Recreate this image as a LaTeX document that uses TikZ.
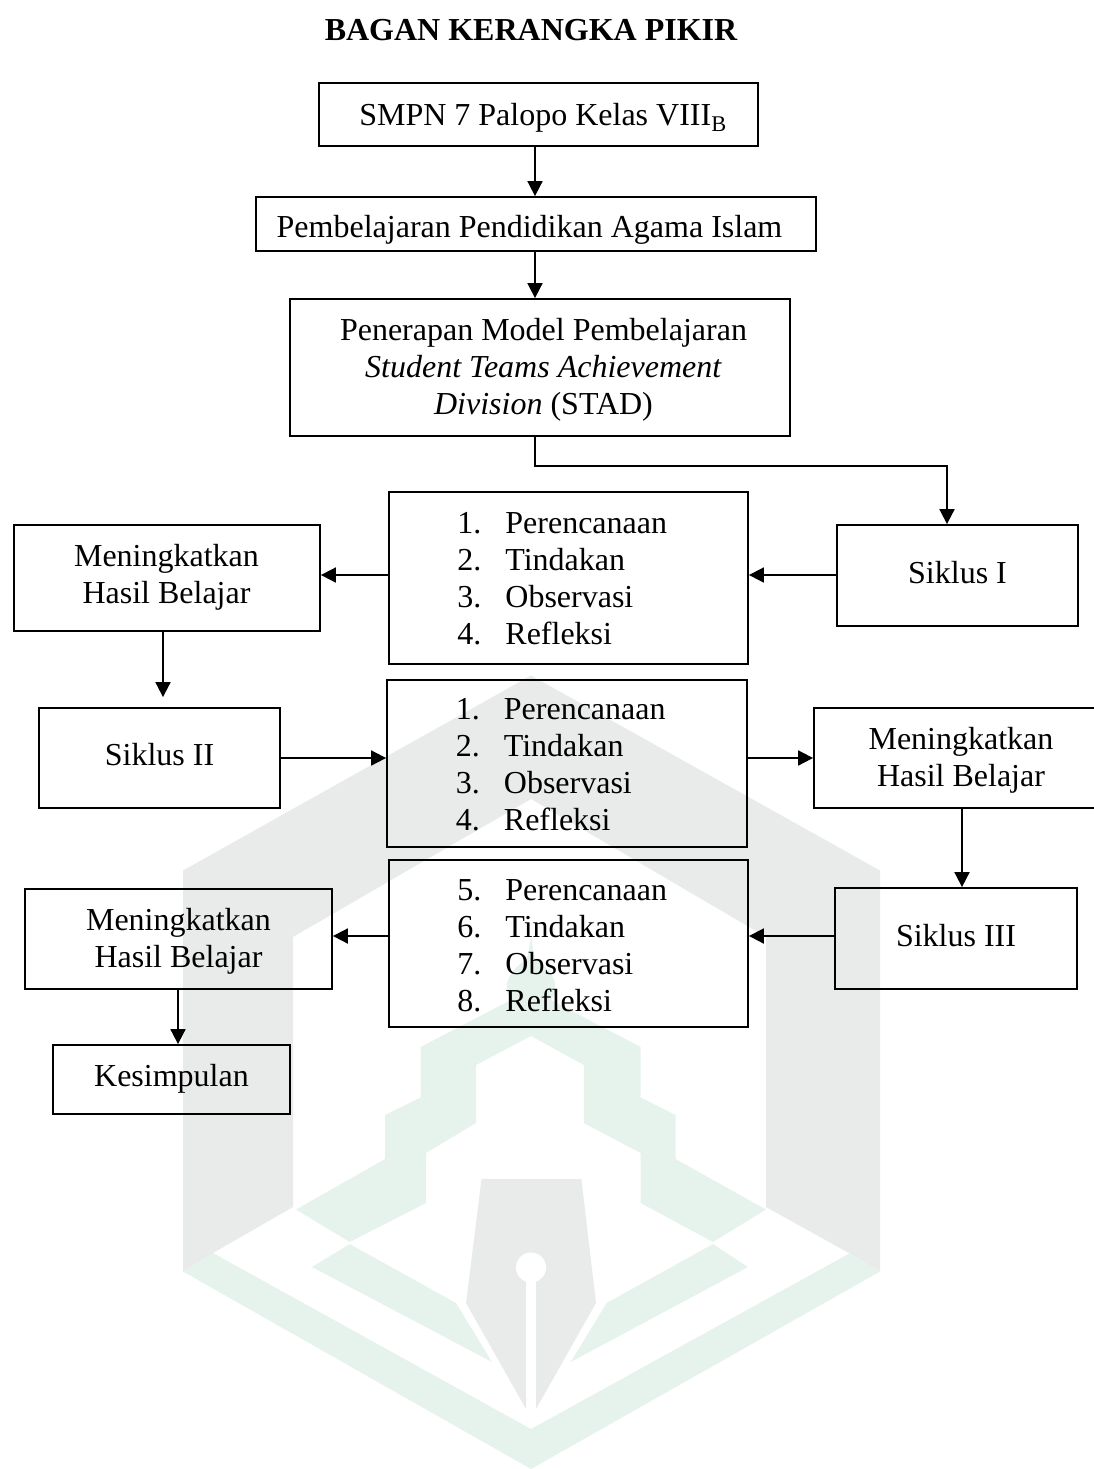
\documentclass[tikz,border=0pt]{standalone}
\usepackage{fontspec}
\setmainfont{Liberation Serif}
\usetikzlibrary{arrows.meta}
\definecolor{wmgrey}{HTML}{E8EBEA}
\definecolor{wmgreen}{HTML}{E6F3ED}
\tikzset{
  box/.style={draw=black,line width=1.8pt,inner sep=0pt,align=center,font=\fontsize{32pt}{37pt}\selectfont},
  conn/.style={draw=black,line width=1.8pt,-{Triangle[length=15pt,width=15pt]}},
  grey/.style={fill=wmgrey,draw=none},
  green/.style={fill=wmgreen,draw=none}
}
% text block moved by dx, dy inside its box
\newcommand{\tx}[3]{\hspace*{\dimexpr 2\dimexpr #1\relax\relax}\raisebox{#2}[\height][\depth]{\begin{tabular}{@{}c@{}}#3\end{tabular}}}
\newcommand{\steplist}[5]{\raisebox{#5}[\height][\depth]{\begin{tabular}{@{}l@{\hspace{24pt}}l@{\hspace{12.5pt}}}#1.&Perencanaan\\#2.&Tindakan\\#3.&Observasi\\#4.&Refleksi\end{tabular}}}
\begin{document}
\begin{tikzpicture}[x=1pt,y=-1pt]
\useasboundingbox (0,0) rectangle (1093,1469);
% watermark
\fill[grey] (183,870.5)--(531,675.5)--(880,870.5)--(880,1271.5)--(849.5,1253.4)--(766,1207)--(766,937)--(531,799)--(293,937)--(293,1207)--(213,1253)--(183,1271.5)--cycle;
\fill[green] (183,1271.5)--(531,1469)--(880,1271.5)--(849.5,1253.4)--(531,1429)--(213,1253)--cycle;
\fill[green] (296,1209.5)--(385,1159)--(385,1115)--(420.5,1097.5)--(420.5,1047)--(511,1000)
  .. controls (500,985) and (512,968) .. (526,960) .. controls (529,955) and (529,945) .. (531,937)
  .. controls (533,945) and (533,955) .. (536,960) .. controls (550,968) and (562,985) .. (551,1000)
  --(640.6,1047)--(640.6,1097.5)--(675.5,1115)--(675.5,1159)--(766,1209.5)--(713,1242)--(640.6,1203)--(640.6,1153)--(583.8,1123)--(583.8,1065)--(531,1036)--(476,1065)--(476,1123)--(426,1153)--(426,1203)--(349.7,1242)--cycle;
\fill[green] (312,1267)--(349.7,1244)--(456,1303)--(492,1362)--cycle;
\fill[green] (748,1267)--(713,1244)--(606.6,1303)--(570.7,1362)--cycle;
\fill[grey] (481.5,1179)--(581.4,1179)--(596,1303)--(536,1409)--(536,1275)--(526,1275)--(526,1409)--(466,1303)--cycle;
\fill[white] (531,1267.5) circle (15);
% title
\node[font=\fontsize{32pt}{36pt}\selectfont\bfseries] (title) at (531,30) {BAGAN KERANGKA PIKIR};
% boxes
\node[box,minimum width=439pt,minimum height=63pt] (smp) at (538.5,114.5) {\tx{4.5pt}{-4pt}{SMPN 7 Palopo Kelas VIII\textsubscript{B}}};
\node[box,minimum width=560pt,minimum height=54pt] (pai) at (536,224) {\tx{-6.5pt}{-6.5pt}{Pembelajaran Pendidikan Agama Islam}};
\node[box,minimum width=500pt,minimum height=137pt] (model) at (540,367.5) {\tx{3.5pt}{-3pt}{Penerapan Model Pembelajaran\\\textit{Student Teams Achievement}\\\textit{Division} (STAD)}};
\node[box,minimum width=359pt,minimum height=172pt] (listA) at (568.5,578) {\steplist1234{-3.5pt}};
\node[box,minimum width=306pt,minimum height=106pt] (hasilA) at (167,578) {\tx{-0.5pt}{0pt}{Meningkatkan\\Hasil Belajar}};
\node[box,minimum width=241pt,minimum height=101pt] (sikA) at (957.5,575.5) {\tx{0pt}{-1pt}{Siklus I}};
\node[box,minimum width=241pt,minimum height=100pt] (sikB) at (159.5,758) {\tx{0pt}{0pt}{Siklus II}};
\node[box,minimum width=360pt,minimum height=167pt] (listB) at (567,763.5) {\steplist1234{-4.5pt}};
\node[box,minimum width=300pt,minimum height=100pt] (hasilB) at (964,758) {\tx{-3pt}{-2.5pt}{Meningkatkan\\Hasil Belajar}};
\node[box,minimum width=242pt,minimum height=101pt] (sikC) at (956,938.5) {\tx{0pt}{-1pt}{Siklus III}};
\node[box,minimum width=359pt,minimum height=167pt] (listC) at (568.5,943.5) {\steplist5678{-5.5pt}};
\node[box,minimum width=307pt,minimum height=100pt] (hasilC) at (178.5,939) {\tx{0pt}{-2.5pt}{Meningkatkan\\Hasil Belajar}};
\node[box,minimum width=237pt,minimum height=69pt] (kes) at (171.5,1079.5) {\tx{0pt}{0pt}{Kesimpulan}};
% connectors
\draw[conn] (smp.south -| 535,0) -- (pai.north -| 535,0);
\draw[conn] (pai.south -| 535,0) -- (model.north -| 535,0);
\draw[conn] (model.south -| 535,0) |- (947,466) -- (sikA.north -| 947,0);
\draw[conn] (sikA.west |- 0,575) -- (listA.east |- 0,575);
\draw[conn] (listA.west |- 0,575) -- (hasilA.east |- 0,575);
\draw[conn] (hasilA.south -| 163,0) -- ([yshift=10pt]sikB.north -| 163,0);
\draw[conn] (sikB.east |- 0,758) -- (listB.west |- 0,758);
\draw[conn] (listB.east |- 0,758) -- (hasilB.west |- 0,758);
\draw[conn] (hasilB.south -| 962,0) -- (sikC.north -| 962,0);
\draw[conn] (sikC.west |- 0,936) -- (listC.east |- 0,936);
\draw[conn] (listC.west |- 0,936) -- (hasilC.east |- 0,936);
\draw[conn] (hasilC.south -| 178,0) -- (kes.north -| 178,0);
\end{tikzpicture}
\end{document}
